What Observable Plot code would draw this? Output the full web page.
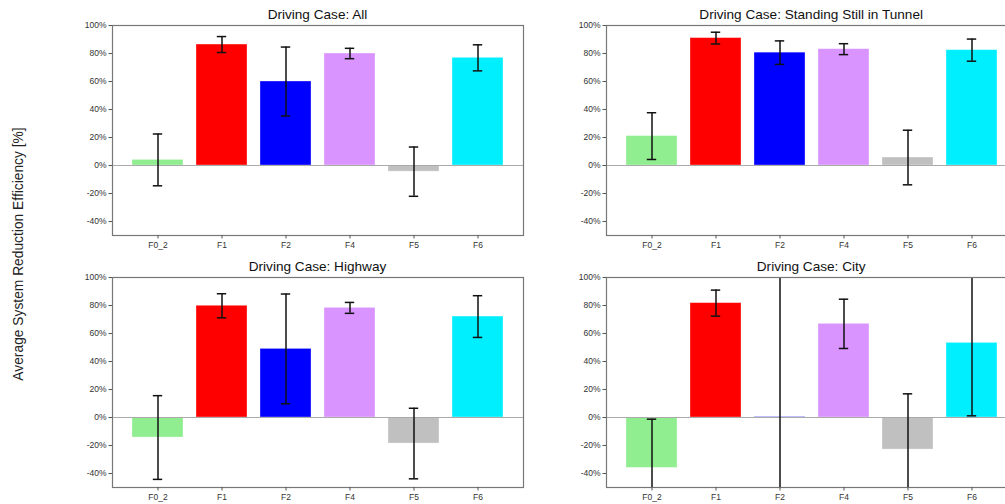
<!DOCTYPE html>
<html>
<head>
<meta charset="utf-8">
<script src="https://cdn.jsdelivr.net/npm/d3@7"></script>
<script src="https://cdn.jsdelivr.net/npm/@observablehq/plot@0.6"></script>
<style>
  html, body { margin: 0; padding: 0; background: #fff; overflow: hidden; }
  #root { position: relative; width: 1005px; height: 504px; overflow: hidden; font-family: "Liberation Sans", Arial, sans-serif; }
  .panel { position: absolute; }
  .title { position: absolute; font-size: 13.6px; color: #111; text-align: center; white-space: nowrap; transform: translateX(-50%); }
  .ylabel { position: absolute; font-size: 13.8px; color: #222; white-space: nowrap; transform: translate(-50%, -50%) rotate(-90deg); }
</style>
</head>
<body>
<div id="root"></div>
<script>
// ---- data ----
const categories = ["F0_2", "F1", "F2", "F4", "F5", "F6"];
const barColors = ["#90ee90", "#ff0000", "#0000ff", "#d994ff", "#c0c0c0", "#00efff"];
const panelTitles = ["Driving Case: All", "Driving Case: Standing Still in Tunnel", "Driving Case: Highway", "Driving Case: City"];
const yTicks = [-40, -20, 0, 20, 40, 60, 80, 100];

const meanAll = [4.0, 86.4, 60.0, 80.0, -4.4, 76.9];
const errAll = [18.5, 5.7, 24.6, 3.7, 17.6, 9.3];
const meanTunnel = [21.0, 91.0, 80.6, 83.1, 5.7, 82.4];
const errTunnel = [16.7, 4.2, 8.4, 3.9, 19.5, 7.9];
const meanHighway = [-14.3, 79.8, 49.0, 78.3, -18.6, 72.1];
const errHighway = [29.9, 8.6, 39.2, 3.9, 25.2, 14.9];
const meanCity = [-36.0, 81.7, 0.3, 66.9, -22.9, 53.3];
const errCity = [34.8, 9.3, 120, 17.6, 39.8, 52.1];

const panelMeans = [meanAll, meanTunnel, meanHighway, meanCity];
const panelErrs = [errAll, errTunnel, errHighway, errCity];

// ---- layout ----
const frameW = 411, frameH = 210;
const mL = 50, mR = 5, mT = 5, mB = 22;
const frames = [
  {left: 112, top: 25},
  {left: 605.7, top: 25},
  {left: 112, top: 277.3},
  {left: 605.7, top: 277.3}
];

const root = document.getElementById("root");
const font = {fontFamily: '"Liberation Sans", Arial, sans-serif', fontSize: "8.5px", color: "#333", background: "transparent"};

frames.forEach((f, i) => {
  const rows = categories.map((c, k) => ({cat: c, v: panelMeans[i][k], e: panelErrs[i][k]}));
  const chart = Plot.plot({
    width: mL + frameW + mR,
    height: mT + frameH + mB,
    marginLeft: mL, marginRight: mR, marginTop: mT, marginBottom: mB,
    style: font,
    x: {type: "band", domain: categories, paddingInner: 0.2, paddingOuter: 0.29, align: 0.5},
    y: {domain: [-50, 100]},
    color: {domain: categories, range: barColors},
    marks: [
      Plot.barY(rows, {x: "cat", y: "v", fill: "cat", stroke: "#fff", strokeOpacity: 0.4, strokeWidth: 0.8}),
      Plot.ruleY([0], {stroke: "#aaaaaa", strokeWidth: 1}),
      Plot.ruleX(rows, {x: "cat", y1: d => d.v - d.e, y2: d => d.v + d.e, stroke: "#111", strokeWidth: 1.5, clip: true}),
      Plot.tickY(rows, {x: "cat", y: d => d.v - d.e, insetLeft: 20.8, insetRight: 20.8, stroke: "#111", strokeWidth: 1.5, clip: true}),
      Plot.tickY(rows, {x: "cat", y: d => d.v + d.e, insetLeft: 20.8, insetRight: 20.8, stroke: "#111", strokeWidth: 1.5, clip: true}),
      Plot.frame({stroke: "#777", strokeWidth: 1.2}),
      Plot.axisX({tickSize: 3.5, tickPadding: 2.5, label: null, stroke: "#555"}),
      Plot.axisY({ticks: yTicks, tickFormat: d => d + "%", tickSize: 3.5, tickPadding: 2.5, label: null, stroke: "#555"})
    ]
  });
  chart.classList.add("panel");
  chart.style.left = (f.left - mL) + "px";
  chart.style.top = (f.top - mT) + "px";
  root.appendChild(chart);

  const t = document.createElement("div");
  t.className = "title";
  t.textContent = panelTitles[i];
  t.style.left = (f.left + frameW / 2) + "px";
  t.style.top = (f.top - 18) + "px";
  root.appendChild(t);
});

const yl = document.createElement("div");
yl.className = "ylabel";
yl.textContent = "Average System Reduction Efficiency [%]";
yl.style.left = "18px";
yl.style.top = "254px";
root.appendChild(yl);
</script>
</body>
</html>
